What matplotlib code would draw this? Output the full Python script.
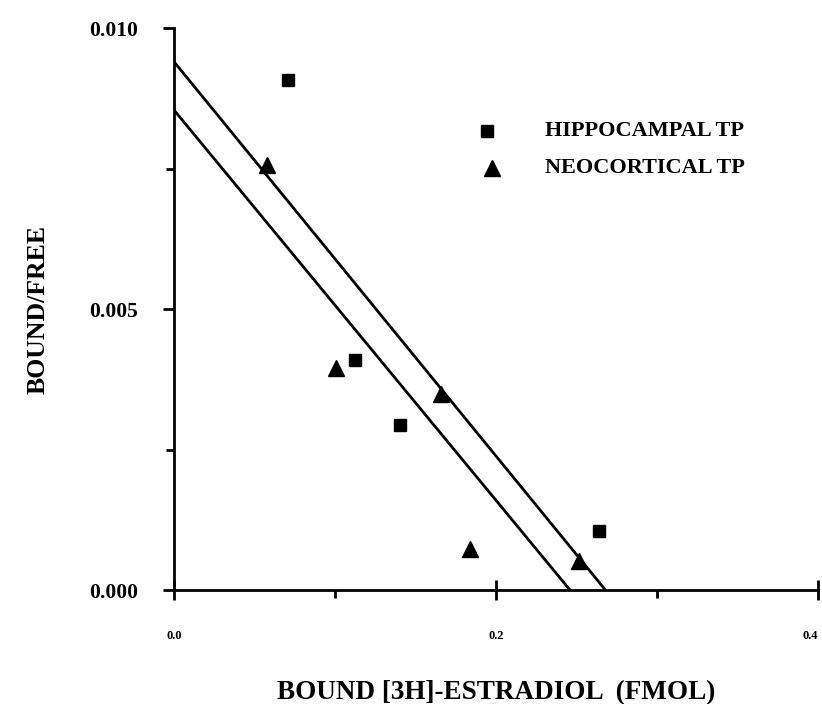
import matplotlib
matplotlib.use('Agg')
import matplotlib.pyplot as plt
import numpy as np

# data
hippo_x = [0.0708, 0.1124, 0.1404, 0.2640]
hippo_y = [0.00907, 0.00409, 0.00294, 0.00105]
neo_x = [0.0578, 0.1006, 0.1660, 0.1840, 0.2516]
neo_y = [0.00756, 0.00395, 0.00349, 0.00073, 0.00052]

# regression lines: y-intercept and x-intercept
fit_y0 = [0.00940, 0.00854]
fit_x0 = [0.2680, 0.2460]

xticks = [0.0, 0.2, 0.4]
xtick_labels = ['0.0', '0.2', '0.4']
yticks = [0.0, 0.005, 0.010]
ytick_labels = ['0.000', '0.005', '0.010']

SERIF = ['Liberation Serif', 'DejaVu Serif']


def main():
	fig = plt.figure(figsize=(8.22, 7.04), dpi=100)
	ax = fig.add_axes([0.2117, 0.1619, 0.7833, 0.7983])

	for y0, x0 in zip(fit_y0, fit_x0):
		ax.plot([0, x0], [y0, 0], color='black', lw=2.0, solid_capstyle='butt')

	ax.plot(hippo_x, hippo_y, 's', color='black', ms=8.5, ls='none', clip_on=False)
	ax.plot(neo_x, neo_y, '^', color='black', ms=12, ls='none', clip_on=False)

	ax.set_xlim(0, 0.4)
	ax.set_ylim(0, 0.010)
	for s in ['top', 'right']:
		ax.spines[s].set_visible(False)
	for s in ['left', 'bottom']:
		ax.spines[s].set_linewidth(2.0)

	ax.set_xticks(xticks, xtick_labels, family=SERIF, fontweight='bold', fontsize=9, fontstretch='condensed')
	ax.set_xticks([0.1, 0.3], minor=True)
	ax.get_xticklabels()[-1].set_ha('right')
	ax.set_yticks(yticks, ytick_labels, family=SERIF, fontweight='bold', fontsize=15.5)
	ax.set_yticks([0.0025, 0.0075], minor=True)
	ax.tick_params(which='major', direction='inout', length=14, width=2)
	ax.tick_params(which='minor', direction='out', length=6, width=2)
	ax.tick_params(axis='y', which='major', direction='out', length=8, pad=18)
	ax.tick_params(axis='x', which='major', pad=22)

	ax.set_xlabel('BOUND [3H]-ESTRADIOL  (FMOL)', family=SERIF, fontweight='bold', fontsize=19.5, labelpad=27)
	ax.set_ylabel('BOUND/FREE', family=SERIF, fontweight='bold', fontsize=18.5, labelpad=28)

	# legend drawn by hand like the original
	ax.plot([0.1944], [0.00817], 's', color='black', ms=8.5)
	ax.plot([0.1975], [0.00751], '^', color='black', ms=12)
	ax.text(0.2304, 0.00817, 'HIPPOCAMPAL TP', family=SERIF, fontweight='bold', fontsize=16, va='center')
	ax.text(0.2304, 0.00751, 'NEOCORTICAL TP', family=SERIF, fontweight='bold', fontsize=16, va='center')

	fig.savefig('out.png', dpi=100)


if __name__ == '__main__':
	main()
